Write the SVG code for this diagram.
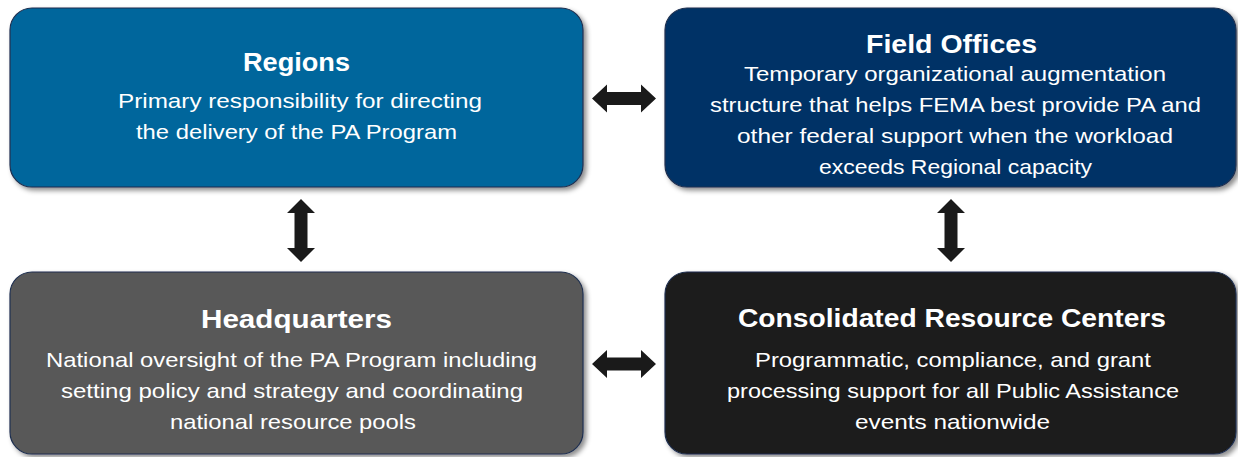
<svg xmlns="http://www.w3.org/2000/svg" width="1238" height="457" viewBox="0 0 1238 457">
  <defs>
    <filter id="shadow" x="-5%" y="-10%" width="112%" height="125%">
      <feDropShadow dx="3" dy="3" stdDeviation="2.5" flood-color="#000" flood-opacity="0.45"/>
    </filter>
    <style>
      .box { stroke: #1e2f4f; stroke-width: 1.2; filter: url(#shadow); }
      .title { font-family: "Liberation Sans", Arial, sans-serif; font-weight: bold; font-size: 26px; fill: #ffffff; text-anchor: middle; }
      .body { font-family: "Liberation Sans", Arial, sans-serif; font-size: 21px; fill: #ffffff; text-anchor: middle; }
      .arrow { fill: #1a1a1a; }
    </style>
  </defs>
  <rect width="1238" height="457" fill="#ffffff"/>

  <g id="regions">
    <rect class="box" x="10" y="8" width="573" height="179" rx="22" fill="#03669c"/>
    <text class="title" x="296.5" y="71" textLength="107" lengthAdjust="spacingAndGlyphs">Regions</text>
    <text class="body" x="300" y="108" textLength="364" lengthAdjust="spacingAndGlyphs">Primary responsibility for directing</text>
    <text class="body" x="296.5" y="139" textLength="321" lengthAdjust="spacingAndGlyphs">the delivery of the PA Program</text>
  </g>

  <g id="field-offices">
    <rect class="box" x="665" y="8" width="571" height="179" rx="22" fill="#013366"/>
    <text class="title" x="951.5" y="53" textLength="171" lengthAdjust="spacingAndGlyphs">Field Offices</text>
    <text class="body" x="955" y="81" textLength="422" lengthAdjust="spacingAndGlyphs">Temporary organizational augmentation</text>
    <text class="body" x="955.5" y="112" textLength="491" lengthAdjust="spacingAndGlyphs">structure that helps FEMA best provide PA and</text>
    <text class="body" x="955" y="143" textLength="436" lengthAdjust="spacingAndGlyphs">other federal support when the workload</text>
    <text class="body" x="955.5" y="174" textLength="273" lengthAdjust="spacingAndGlyphs">exceeds Regional capacity</text>
  </g>

  <g id="headquarters">
    <rect class="box" x="10" y="272" width="573" height="182" rx="22" fill="#595959"/>
    <text class="title" x="296.5" y="328" textLength="191" lengthAdjust="spacingAndGlyphs">Headquarters</text>
    <text class="body" x="291.5" y="367" textLength="491" lengthAdjust="spacingAndGlyphs">National oversight of the PA Program including</text>
    <text class="body" x="292" y="398" textLength="462" lengthAdjust="spacingAndGlyphs">setting policy and strategy and coordinating</text>
    <text class="body" x="293" y="429" textLength="246" lengthAdjust="spacingAndGlyphs">national resource pools</text>
  </g>

  <g id="consolidated-resource-centers">
    <rect class="box" x="665" y="272" width="571" height="182" rx="22" fill="#1a1a1a"/>
    <text class="title" x="952" y="327" textLength="428" lengthAdjust="spacingAndGlyphs">Consolidated Resource Centers</text>
    <text class="body" x="953" y="367" textLength="396" lengthAdjust="spacingAndGlyphs">Programmatic, compliance, and grant</text>
    <text class="body" x="953" y="398" textLength="452" lengthAdjust="spacingAndGlyphs">processing support for all Public Assistance</text>
    <text class="body" x="952.5" y="429" textLength="195" lengthAdjust="spacingAndGlyphs">events nationwide</text>
  </g>

  <g id="connectors">
    <polygon class="arrow" points="592,98.5 607,84.5 607,92 641,92 641,84.5 656,98.5 641,112.5 641,105 607,105 607,112.5"/>
    <polygon class="arrow" points="592,364 607,350 607,357.5 641,357.5 641,350 656,364 641,378 641,370.5 607,370.5 607,378"/>
    <polygon class="arrow" points="301,199 315,213 307.5,213 307.5,248 315,248 301,262 287,248 294.5,248 294.5,213 287,213"/>
    <polygon class="arrow" points="951,199 965,213 957.5,213 957.5,248 965,248 951,262 937,248 944.5,248 944.5,213 937,213"/>
  </g>
</svg>
